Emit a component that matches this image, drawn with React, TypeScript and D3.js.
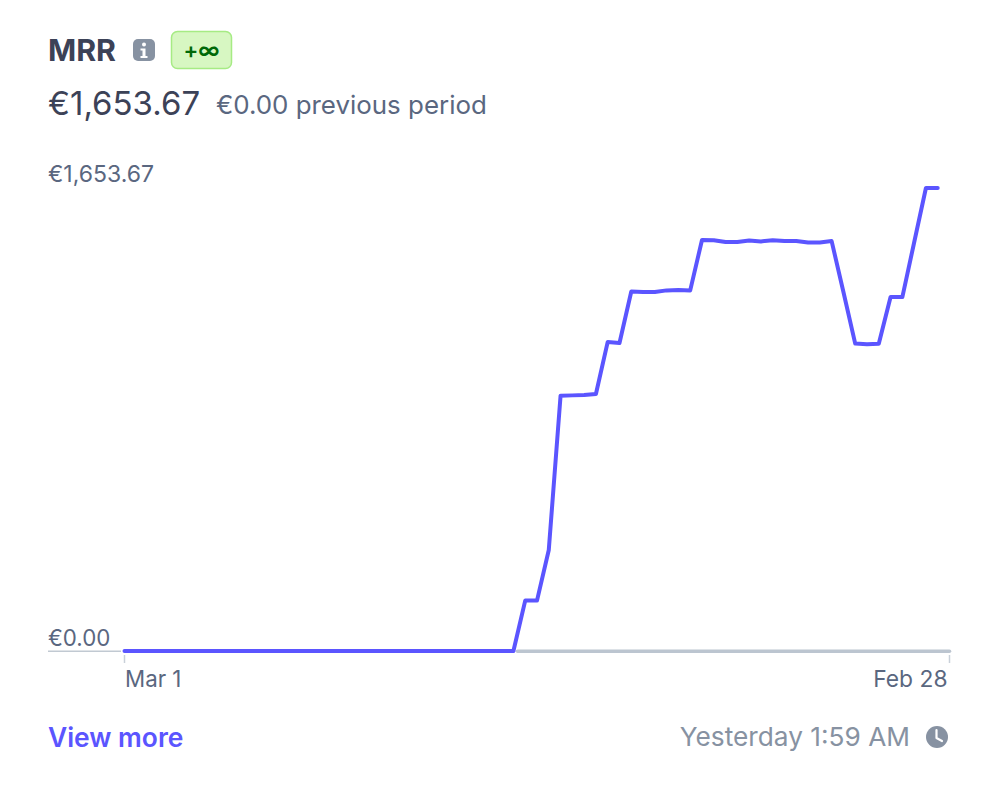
import React from "react";
import * as d3 from "d3";

const title = "MRR";
const badge = "+∞";
const total = "€1,653.67";
const previous = "€0.00 previous period";
const yTickLabels = ["€1,653.67", "€0.00"];
const xTickLabels = ["Mar 1", "Feb 28"];
const linkLabel = "View more";
const updatedLabel = "Yesterday 1:59 AM";

const zeroPeriods = d3.range(34).map(() => 0);
const risingPeriods = [180, 180, 361, 912, 913, 914, 918, 1104, 1100, 1284, 1282, 1282, 1288, 1289, 1288];
const plateauPeriods = [1468, 1467, 1461, 1461, 1466, 1463, 1467, 1464, 1464, 1459, 1459, 1464];
const finalPeriods = [1282, 1098, 1096, 1097, 1264, 1264, 1459, 1653.67, 1653.67];
const mrrValues = [...zeroPeriods, ...risingPeriods, ...plateauPeriods, ...finalPeriods];
const slotCount = 70;

const FONT = "Inter, 'Noto Sans', sans-serif";
const PURPLE = "#5b55ff";
const SLATE = "#5a6780";
const GREY = "#8792a2";

export default function App() {
  const x = d3.scaleLinear().domain([0, slotCount]).range([124.5, 949.5]);
  const y = d3.scaleLinear().domain([0, 1653.67]).range([651, 188]);
  const line = d3.line<number>().x((_, i) => x(i)).y((d) => y(d)).curve(d3.curveLinear);
  const zeroEnd = x(zeroPeriods.length - 1);
  return (
    <svg width={1000} height={803} viewBox="0 0 1000 803" style={{ position: "absolute", left: 0, top: 0, background: "#fff" }} fontFamily={FONT}>
      <text x={48} y={61} fontSize={30.3} fontWeight={700} fill="#3c4257">{title}</text>
      <rect x={133} y={39} width={22} height={22} rx={5} fill={GREY} />
      <circle cx={144} cy={44.5} r={2} fill="#fff" />
      <path d="M140.500 48.500h5v7.500h2v2h-7v-2h2v-5.500h-2z" fill="#fff" />
      <rect x={171.500} y={31.500} width={60} height={37} rx={6} fill="#d7f7c2" stroke="#a6eb84" strokeWidth={1.500} />
      <text x={201.500} y={58} fontSize={22} fontWeight={600} fill="#006908" textAnchor="middle">{badge}</text>

      <text x={48} y={115} fontSize={33} fill="#3c4257">{total}</text>
      <text x={216} y={114} fontSize={25.9} fill={SLATE}>{previous}</text>

      <text x={48} y={182} fontSize={23} fill={SLATE}>{yTickLabels[0]}</text>
      <text x={48} y={646} fontSize={22.3} fill={SLATE}>{yTickLabels[1]}</text>

      <line x1={48} x2={121} y1={651.3} y2={651.3} stroke="#c1c9d2" strokeWidth={1.500} />
      <line x1={zeroEnd + 4} x2={x(slotCount)} y1={651.3} y2={651.3} stroke="#bcc5d0" strokeWidth={3.500} strokeLinecap="round" />
      {[0, slotCount].map((t) => (
        <line key={t} x1={x(t)} x2={x(t)} y1={655} y2={663} stroke="#c9d0d9" strokeWidth={1.500} />
      ))}
      <path d={line(mrrValues) ?? ""} fill="none" stroke={PURPLE} strokeWidth={4} strokeLinejoin="round" strokeLinecap="round" />

      <text x={125} y={687} fontSize={22.3} fill={SLATE}>{xTickLabels[0]}</text>
      <text x={947.5} y={687} fontSize={22.8} fill={SLATE} textAnchor="end">{xTickLabels[1]}</text>

      <text x={48} y={747} fontSize={26.4} fontWeight={600} fill={PURPLE}>{linkLabel}</text>
      <text x={910} y={746} fontSize={26.25} fill={GREY} textAnchor="end">{updatedLabel}</text>
      <circle cx={937} cy={737} r={11} fill={GREY} />
      <path d="M936.500 730v8l5.500 3" fill="none" stroke="#fff" strokeWidth={2.200} strokeLinecap="round" strokeLinejoin="round" />
    </svg>
  );
}
